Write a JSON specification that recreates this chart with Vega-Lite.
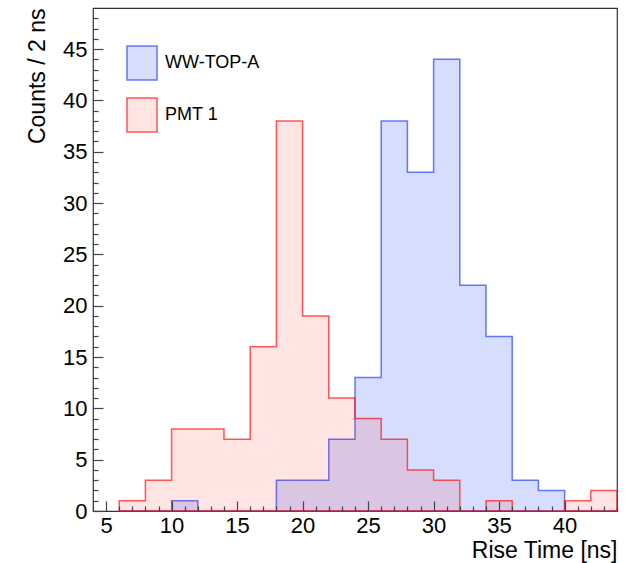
{
  "$schema": "https://vega.github.io/schema/vega-lite/v6.json",
  "width": 524,
  "height": 503,
  "autosize": {"type": "none"},
  "padding": {"left": 93, "top": 8, "right": 24, "bottom": 52},
  "background": "white",
  "config": {
    "font": "Liberation Sans",
    "view": {"stroke": "#333333", "strokeWidth": 1.2},
    "axis": {"labelColor": "#000000", "titleColor": "#000000", "tickColor": "#444444", "tickWidth": 1.2, "titleFontWeight": "normal", "labelFont": "Liberation Sans", "titleFont": "Liberation Sans"}
  },
  "data": {
    "values": [
      {"series": "WW-TOP-A", "lo": 4, "hi": 6, "count": 0},
      {"series": "WW-TOP-A", "lo": 6, "hi": 8, "count": 0},
      {"series": "WW-TOP-A", "lo": 8, "hi": 10, "count": 0},
      {"series": "WW-TOP-A", "lo": 10, "hi": 12, "count": 1},
      {"series": "WW-TOP-A", "lo": 12, "hi": 14, "count": 0},
      {"series": "WW-TOP-A", "lo": 14, "hi": 16, "count": 0},
      {"series": "WW-TOP-A", "lo": 16, "hi": 18, "count": 0},
      {"series": "WW-TOP-A", "lo": 18, "hi": 20, "count": 3},
      {"series": "WW-TOP-A", "lo": 20, "hi": 22, "count": 3},
      {"series": "WW-TOP-A", "lo": 22, "hi": 24, "count": 7},
      {"series": "WW-TOP-A", "lo": 24, "hi": 26, "count": 13},
      {"series": "WW-TOP-A", "lo": 26, "hi": 28, "count": 38},
      {"series": "WW-TOP-A", "lo": 28, "hi": 30, "count": 33},
      {"series": "WW-TOP-A", "lo": 30, "hi": 32, "count": 44},
      {"series": "WW-TOP-A", "lo": 32, "hi": 34, "count": 22},
      {"series": "WW-TOP-A", "lo": 34, "hi": 36, "count": 17},
      {"series": "WW-TOP-A", "lo": 36, "hi": 38, "count": 3},
      {"series": "WW-TOP-A", "lo": 38, "hi": 40, "count": 2},
      {"series": "WW-TOP-A", "lo": 40, "hi": 42, "count": 0},
      {"series": "WW-TOP-A", "lo": 42, "hi": 44, "count": 0},
      {"series": "PMT 1", "lo": 4, "hi": 6, "count": 0},
      {"series": "PMT 1", "lo": 6, "hi": 8, "count": 1},
      {"series": "PMT 1", "lo": 8, "hi": 10, "count": 3},
      {"series": "PMT 1", "lo": 10, "hi": 12, "count": 8},
      {"series": "PMT 1", "lo": 12, "hi": 14, "count": 8},
      {"series": "PMT 1", "lo": 14, "hi": 16, "count": 7},
      {"series": "PMT 1", "lo": 16, "hi": 18, "count": 16},
      {"series": "PMT 1", "lo": 18, "hi": 20, "count": 38},
      {"series": "PMT 1", "lo": 20, "hi": 22, "count": 19},
      {"series": "PMT 1", "lo": 22, "hi": 24, "count": 11},
      {"series": "PMT 1", "lo": 24, "hi": 26, "count": 9},
      {"series": "PMT 1", "lo": 26, "hi": 28, "count": 7},
      {"series": "PMT 1", "lo": 28, "hi": 30, "count": 4},
      {"series": "PMT 1", "lo": 30, "hi": 32, "count": 3},
      {"series": "PMT 1", "lo": 32, "hi": 34, "count": 0},
      {"series": "PMT 1", "lo": 34, "hi": 36, "count": 1},
      {"series": "PMT 1", "lo": 36, "hi": 38, "count": 0},
      {"series": "PMT 1", "lo": 38, "hi": 40, "count": 0},
      {"series": "PMT 1", "lo": 40, "hi": 42, "count": 1},
      {"series": "PMT 1", "lo": 42, "hi": 44, "count": 2}
    ]
  },
  "mark": {"type": "area", "interpolate": "step-before", "strokeWidth": 1.5},
  "encoding": {
    "x": {
      "field": "hi", "type": "quantitative",
      "scale": {"domain": [4, 44], "nice": false, "zero": false},
      "axis": {
        "values": [4,5,6,7,8,9,10,11,12,13,14,15,16,17,18,19,20,21,22,23,24,25,26,27,28,29,30,31,32,33,34,35,36,37,38,39,40,41,42,43,44],
        "labelExpr": "datum.value % 5 === 0 ? datum.label : ''",
        "tickSize": {"condition": {"test": "datum.value % 5 === 0", "value": -10}, "value": -5},
        "domain": false, "grid": false, "zindex": 1,
        "labelFontSize": 22, "labelPadding": 14, "labelFlush": false, "labelOverlap": false,
        "title": "Rise Time [ns]", "titleFontSize": 23,
        "titleX": 524, "titleY": 39, "titleAlign": "right", "titleBaseline": "middle"
      }
    },
    "y": {
      "field": "count", "type": "quantitative", "stack": null,
      "scale": {"domain": [0, 49], "nice": false},
      "axis": {
        "values": [0,1,2,3,4,5,6,7,8,9,10,11,12,13,14,15,16,17,18,19,20,21,22,23,24,25,26,27,28,29,30,31,32,33,34,35,36,37,38,39,40,41,42,43,44,45,46,47,48],
        "labelExpr": "datum.value % 5 === 0 ? datum.label : ''",
        "tickSize": {"condition": {"test": "datum.value % 5 === 0", "value": -10}, "value": -5},
        "domain": false, "grid": false, "zindex": 1,
        "labelFontSize": 22, "labelPadding": 16, "labelFlush": false, "labelOverlap": false,
        "title": "Counts / 2 ns", "titleFontSize": 23,
        "titleX": -56, "titleY": 0, "titleAngle": -90, "titleAlign": "right", "titleBaseline": "middle"
      }
    },
    "fill": {
      "field": "series", "type": "nominal",
      "scale": {"domain": ["WW-TOP-A", "PMT 1"], "range": ["rgba(51,85,245,0.2)", "rgba(255,0,0,0.105)"]},
      "legend": {
        "orient": "none", "legendX": 32, "legendY": 38, "title": null,
        "symbolType": "M-0.94,-1.06H0.94V1.06H-0.94Z", "symbolSize": 1024, "symbolStrokeWidth": 1.5,
        "labelFontSize": 18, "labelColor": "#000000", "labelOffset": 6, "rowPadding": 12, "padding": 0
      }
    },
    "stroke": {
      "field": "series", "type": "nominal",
      "scale": {"domain": ["WW-TOP-A", "PMT 1"], "range": ["rgba(40,70,245,0.7)", "rgba(255,20,20,0.7)"]},
      "legend": {
        "orient": "none", "legendX": 32, "legendY": 38, "title": null,
        "symbolType": "M-0.94,-1.06H0.94V1.06H-0.94Z", "symbolSize": 1024, "symbolStrokeWidth": 1.5,
        "labelFontSize": 18, "labelColor": "#000000", "labelOffset": 6, "rowPadding": 12, "padding": 0
      }
    }
  }
}
